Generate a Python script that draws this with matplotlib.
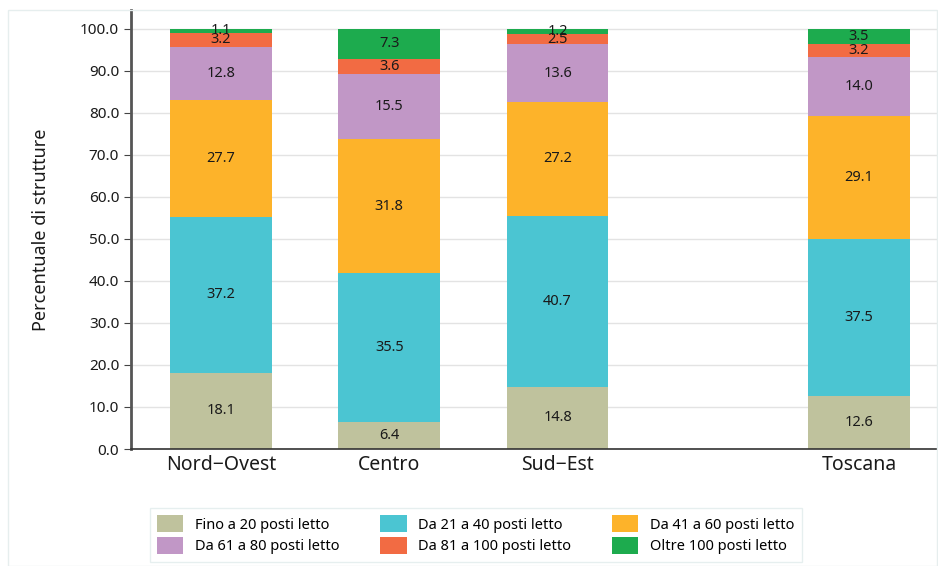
import matplotlib.pyplot as plt
from matplotlib.patches import Rectangle

regions = ["Nord−Ovest", "Centro", "Sud−Est", "Toscana"]
positions = [0, 1, 2, 3.79]

series = ["Fino a 20 posti letto", "Da 21 a 40 posti letto", "Da 41 a 60 posti letto",
          "Da 61 a 80 posti letto", "Da 81 a 100 posti letto", "Oltre 100 posti letto"]
colors = ["#BFC29D", "#4BC5D2", "#FDB32A", "#C197C6", "#F26B43", "#1DAB4E"]

fino20 = [18.1, 6.4, 14.8, 12.6]
da21_40 = [37.2, 35.5, 40.7, 37.5]
da41_60 = [27.7, 31.8, 27.2, 29.1]
da61_80 = [12.8, 15.5, 13.6, 14.0]
da81_100 = [3.2, 3.6, 2.5, 3.2]
oltre100 = [1.1, 7.3, 1.2, 3.5]

values = [fino20, da21_40, da41_60, da61_80, da81_100, oltre100]

plt.rcParams['font.family'] = ['Noto Sans', 'DejaVu Sans']

fig = plt.figure(figsize=(9.38, 5.66), dpi=100)
ax = fig.add_axes([0.1397, 0.2067, 0.8603, 0.7756])

fig.patches.append(Rectangle((0.009, 0.0), 0.99, 0.982, transform=fig.transFigure,
                             fill=False, edgecolor="#E6EEEE", linewidth=1))

bottoms = [0.0] * len(regions)
handles = []
for name, vals, col in zip(series, values, colors):
    bars = ax.bar(positions, vals, width=0.605, bottom=bottoms, color=col, label=name, zorder=2)
    handles.append(bars)
    for x, b, v in zip(positions, bottoms, vals):
        ax.text(x, b + v / 2, f"{v:.1f}", ha="center", va="center", fontsize=10.5, color="#1a1a1a", zorder=3)
    bottoms = [b + v for b, v in zip(bottoms, vals)]

ax.set_xlim(-0.534, 4.26)
ax.set_ylim(0, 104.5)
ax.set_yticks(range(0, 101, 10))
ax.set_yticklabels([f"{t:.1f}" for t in range(0, 101, 10)], fontsize=11, color="#1a1a1a")
ax.set_xticks(positions)
ax.set_xticklabels(regions, fontsize=14, color="#1a1a1a")
ax.tick_params(axis="x", length=0, pad=4)
ax.tick_params(axis="y", length=5, color="#444444")
ax.set_ylabel("Percentuale di strutture", fontsize=13, labelpad=22, color="#1a1a1a")

ax.grid(axis="y", color="#E3E3E3", linewidth=1, zorder=0)
ax.set_axisbelow(True)
for s in ["top", "right"]:
    ax.spines[s].set_visible(False)
ax.spines["left"].set_color("#555555")
ax.spines["left"].set_linewidth(2)
ax.spines["bottom"].set_color("#333333")
ax.spines["bottom"].set_linewidth(1.2)

# legend filled row-wise: reorder for matplotlib's column-wise fill
order = [0, 3, 1, 4, 2, 5]
leg = fig.legend([handles[i] for i in order], [series[i] for i in order], ncol=3,
                 loc="lower left", bbox_to_anchor=(0.152, -0.005), frameon=True,
                 fancybox=False, fontsize=10.5, handlelength=1.8, handleheight=1.4,
                 columnspacing=2.8, borderpad=0.5, labelspacing=0.3)
leg.get_frame().set_edgecolor("#E0ECEC")
leg.get_frame().set_linewidth(1)

fig.savefig("out.png", dpi=100)
